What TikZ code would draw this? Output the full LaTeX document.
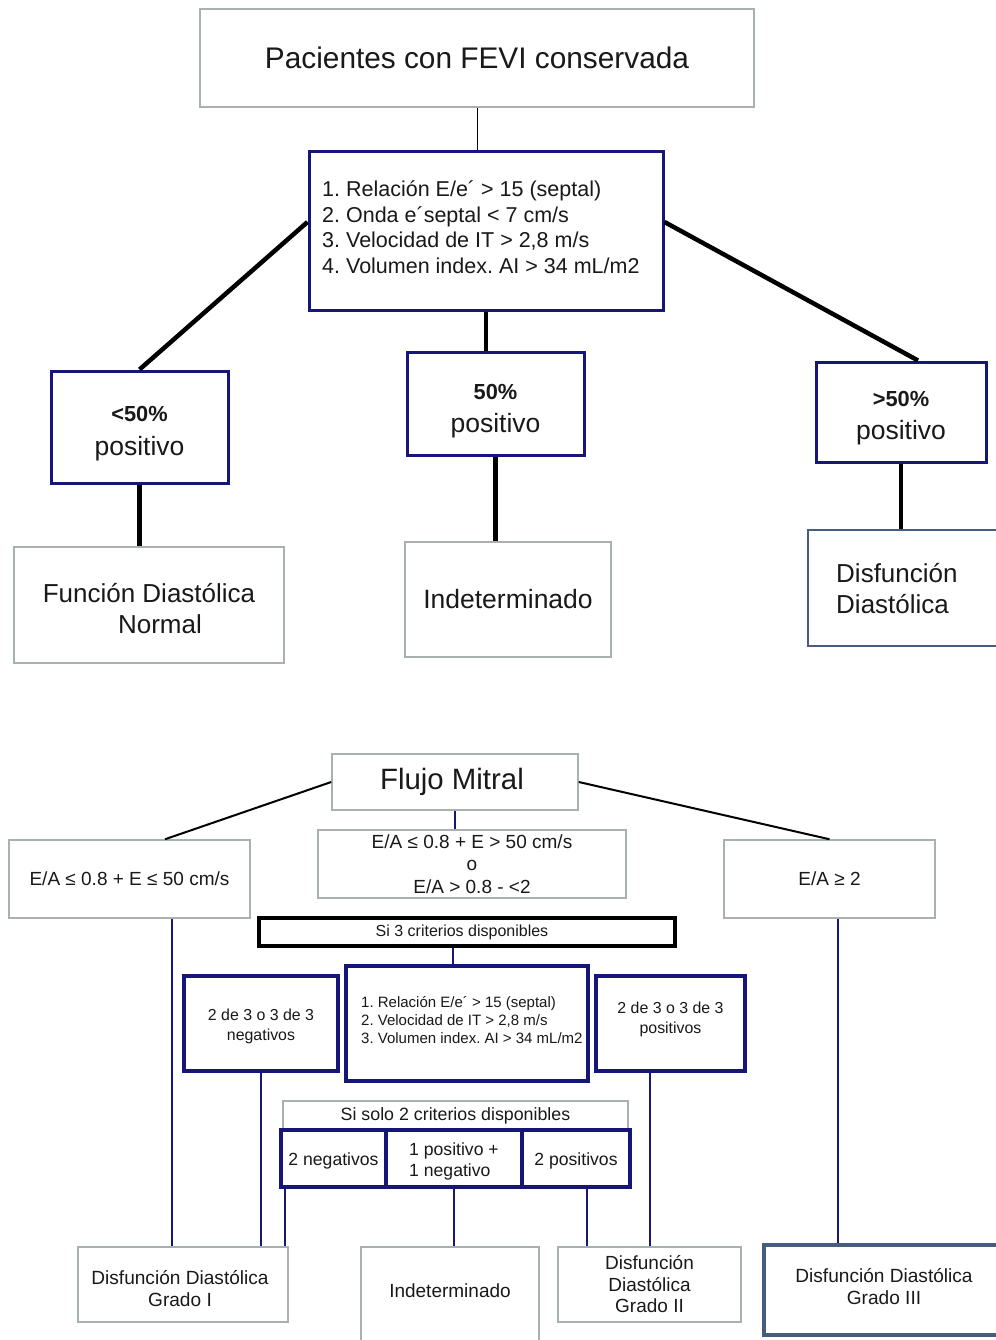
\documentclass[tikz,border=0pt]{standalone}
\usepackage{fontspec}
\setmainfont{Liberation Sans}
\frenchspacing
\definecolor{navyc}{RGB}{22,22,120}
\definecolor{grayc}{RGB}{168,176,176}
\definecolor{slatec}{RGB}{72,92,128}
\definecolor{txtc}{RGB}{25,25,25}
\tikzset{
  base/.style={inner sep=0pt, fill=white, text=txtc, align=center},
  txt/.style={inner sep=0pt, text=txtc, align=center},
  graybox/.style={base, draw=grayc, line width=1.5pt},
  navybox/.style={base, draw=navyc, line width=3pt},
  navyboxb/.style={base, draw=navyc, line width=4pt},
  slatebox/.style={base, draw=slatec, line width=2.5pt},
  blackbox/.style={base, draw=black, line width=4pt},
  thickline/.style={draw=black, line width=4.5pt},
  thinline/.style={draw=black, line width=1pt},
  midline/.style={draw=black, line width=2pt},
  navyline/.style={draw=navyc, line width=2pt},
}
\begin{document}
\begin{tikzpicture}[x=1pt,y=-1pt]
\path[use as bounding box, fill=white] (0,0) rectangle (995,1340);

% ---------------- top diagram ----------------
\node[graybox, minimum width=554pt, minimum height=98pt, font=\fontsize{29.8}{34}\selectfont] (pac) at (477,58) {Pacientes con FEVI conservada};

\node[navybox, minimum width=354pt, minimum height=158pt] (crit1) at (486,231) {};
\node[txt, anchor=west, align=left, font=\fontsize{21.5}{25.5}\selectfont] (crit1t) at (322,227)
  {1. Relación E/e´ > 15 (septal)\\2. Onda e´septal < 7 cm/s\\3. Velocidad de IT > 2,8 m/s\\4. Volumen index. AI > 34 mL/m2};

\node[navybox, minimum width=177pt, minimum height=112pt] (lt50) at (139.5,427) {};
\node[txt, font=\fontsize{26.5}{34}\selectfont] (lt50t) at (139.5,434)
  {{\fontsize{21.8}{26}\selectfont\bfseries <50\%}\\positivo};
\node[navybox, minimum width=177pt, minimum height=103pt] (eq50) at (495.5,403.5) {};
\node[txt, font=\fontsize{26.5}{33}\selectfont] (eq50t) at (495.5,411)
  {{\fontsize{21.8}{26}\selectfont\bfseries 50\%}\\positivo};
\node[navybox, minimum width=170pt, minimum height=100pt] (gt50) at (901,412) {};
\node[txt, font=\fontsize{26.5}{33}\selectfont] (gt50t) at (901,418.5)
  {{\fontsize{21.8}{26}\selectfont\bfseries >50\%}\\positivo};

\node[graybox, minimum width=270pt, minimum height=116pt] (fdn) at (149,605) {};
\node[txt, font=\fontsize{26}{31}\selectfont] (fdnt) at (149,609)
  {Función Diastólica\\\hspace*{22pt}Normal};
\node[graybox, minimum width=206pt, minimum height=115pt, font=\fontsize{26.5}{31}\selectfont] (ind1) at (508,599.5)
  {Indeterminado};
\node[slatebox, minimum width=202pt, minimum height=116pt] (dd1) at (909,588) {};
\node[txt, anchor=west, align=left, font=\fontsize{26}{31}\selectfont] (dd1t) at (836,588.5)
  {Disfunción\\Diastólica};

\draw[thinline] (pac.south) -- (pac.south |- crit1.north);
\draw[thickline] ([yshift=9pt]crit1.west) -- (lt50.north);
\draw[thickline] (crit1.south) -- (crit1.south |- eq50.north);
\draw[thickline] ([yshift=9pt]crit1.east) -- ([xshift=17pt]gt50.north);
\draw[thickline] (lt50.south) -- (lt50.south |- fdn.north);
\draw[thickline] (eq50.south) -- (eq50.south |- ind1.north);
\draw[thickline] (gt50.south) -- (gt50.south |- dd1.north);

% ---------------- bottom diagram ----------------
\node[graybox, minimum width=246pt, minimum height=56pt, font=\fontsize{29.4}{34}\selectfont] (fm) at (455,782) {\hspace*{-6pt}Flujo Mitral};
\node[graybox, minimum width=241pt, minimum height=78pt, font=\fontsize{19}{22}\selectfont] (eal) at (129.5,879) {E/A ≤ 0.8 + E ≤ 50 cm/s};
\node[graybox, minimum width=308pt, minimum height=68pt, font=\fontsize{19}{22.5}\selectfont] (eam) at (472,864)
  {E/A ≤ 0.8 + E > 50 cm/s\\o\\E/A > 0.8 - <2};
\node[graybox, minimum width=211pt, minimum height=78pt, font=\fontsize{19}{22}\selectfont] (ear) at (829.5,879) {E/A ≥ 2};
\node[blackbox, minimum width=416pt, minimum height=28pt, font=\fontsize{16}{18}\selectfont] (si3) at (467,932) {\hspace*{-10pt}Si 3 criterios disponibles};

\node[navyboxb, minimum width=242pt, minimum height=115pt] (crit2) at (467,1023.5) {};
\node[txt, anchor=west, align=left, font=\fontsize{15}{18}\selectfont] (crit2t) at (361,1020)
  {1. Relación E/e´ > 15 (septal)\\2. Velocidad de IT > 2,8 m/s\\3. Volumen index. AI > 34 mL/m2};
\node[navyboxb, minimum width=154pt, minimum height=95pt] (neg3) at (261,1023.5) {};
\node[txt, font=\fontsize{15.9}{20}\selectfont] (neg3t) at (261,1026.5) {2 de 3 o 3 de 3\\negativos};
\node[navyboxb, minimum width=149pt, minimum height=95pt] (pos3) at (670.5,1023.5) {};
\node[txt, font=\fontsize{15.9}{20}\selectfont] (pos3t) at (670.5,1019.5) {2 de 3 o 3 de 3\\positivos};

\node[graybox, minimum width=345pt, minimum height=29pt, font=\fontsize{17.8}{20}\selectfont] (si2) at (455.5,1115.5) {Si solo 2 criterios disponibles};
\node[navyboxb, minimum width=105pt, minimum height=57pt] (c1) at (333.5,1158.5) {};
\node[txt, font=\fontsize{17.6}{21}\selectfont] (c1t) at (333.5,1161) {2 negativos};
\node[navyboxb, minimum width=136pt, minimum height=57pt] (c2) at (454,1158.5) {};
\node[txt, align=left, font=\fontsize{17.6}{21}\selectfont] (c2t) at (454,1161) {1 positivo +\\1 negativo};
\node[navyboxb, minimum width=108pt, minimum height=57pt] (c3) at (576,1158.5) {};
\node[txt, font=\fontsize{17.6}{21}\selectfont] (c3t) at (576,1161) {2 positivos};

\node[graybox, minimum width=210pt, minimum height=75pt] (g1) at (183,1284.5) {};
\node[txt, font=\fontsize{19.1}{22}\selectfont] (g1t) at (180,1289) {Disfunción Diastólica\\Grado I};
\node[graybox, minimum width=178pt, minimum height=100pt, font=\fontsize{19}{22}\selectfont] (ind2) at (450,1297) {Indeterminado\\[-10pt]\mbox{}};
\node[graybox, minimum width=183pt, minimum height=75pt, font=\fontsize{19}{21.5}\selectfont] (g2) at (649.5,1284.5)
  {Disfunción\\Diastólica\\Grado II};
\node[slatebox, line width=4pt, minimum width=240pt, minimum height=90pt] (g3) at (884,1290) {};
\node[txt, font=\fontsize{19.1}{22}\selectfont] (g3t) at (884,1287) {Disfunción Diastólica\\Grado III};

\draw[midline] (fm.west) -- ([xshift=35.5pt]eal.north);
\draw[midline] (fm.east) -- (ear.north);
\draw[navyline] (fm.south) -- (fm.south |- eam.north);
\draw[navyline] ([xshift=-14pt]si3.south) -- ([xshift=-14pt]si3.south |- crit2.north);
\draw[navyline] ([xshift=42.5pt]eal.south) -- ([xshift=-11pt]g1.north);
\draw[navyline] (neg3.south) -- (neg3.south |- g1.north);
\draw[navyline] ([xshift=6pt]c1.south west) -- ([xshift=6pt]c1.south west |- g1.north);
\draw[navyline] (c2.south) -- (c2.south |- ind2.north);
\draw[navyline] ([xshift=11pt]c3.south) -- ([xshift=11pt]c3.south |- g2.north);
\draw[navyline] (pos3.south -| g2.north) -- (g2.north);
\draw[navyline] ([xshift=8.5pt]ear.south) -- ([xshift=8.5pt]ear.south |- g3.north);
\end{tikzpicture}
\end{document}
